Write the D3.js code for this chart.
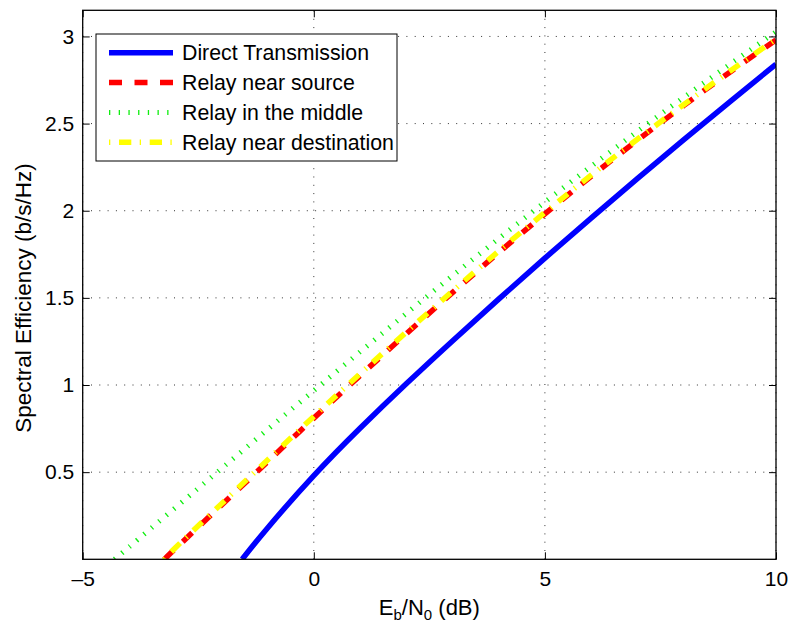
<!DOCTYPE html>
<html>
<head>
<meta charset="utf-8">
<script src="https://cdn.jsdelivr.net/npm/d3@7"></script>
<style>
  html, body { margin: 0; padding: 0; background: #fff; }
  svg { display: block; font-family: "Liberation Sans", Arial, Helvetica, sans-serif; }
</style>
</head>
<body>
<svg id="chart" width="790" height="626"></svg>
<script>
// Eb/N0 sample points (dB)
const ebn0 = [-5, -4, -3, -2, -1, 0, 1, 2, 3, 4, 5, 6, 7, 8, 9, 10];

// Spectral efficiency (b/s/Hz) for each scheme (null = below zero)
const directTx    = [null, null, null, null, 0.18, 0.48, 0.752, 1.007, 1.253, 1.493, 1.728, 1.958, 2.184, 2.406, 2.625, 2.841];
const relaySource = [null, null, 0.06, 0.31, 0.56, 0.81, 1.054, 1.294, 1.53, 1.76, 1.982, 2.197, 2.404, 2.603, 2.795, 2.98];
const relayMiddle = [null, 0.07, 0.295, 0.52, 0.745, 0.968, 1.19, 1.41, 1.627, 1.84, 2.05, 2.255, 2.455, 2.65, 2.84, 3.027];
const relayDest   = [null, null, 0.065, 0.318, 0.57, 0.82, 1.064, 1.303, 1.538, 1.768, 1.99, 2.204, 2.41, 2.608, 2.8, 2.985];

// Eb/N0 where each curve reaches zero efficiency
const startX = { direct: -1.55, source: -3.23, middle: -4.31, dest: -3.22 };

const seriesNames = ["Direct Transmission", "Relay near source", "Relay in the middle", "Relay near destination"];

const xTicks = [-5, 0, 5, 10];
const yTicks = [0.5, 1, 1.5, 2, 2.5, 3];

const xDomain = [-5, 10];
const yDomain = [0, 3.15];

const svg = d3.select("#chart");
const L = 82.7, R = 776, T = 10.3, B = 559.3;

const x = d3.scaleLinear().domain(xDomain).range([L, R]);
const y = d3.scaleLinear().domain(yDomain).range([B, T]);

// clip region for the curves
svg.append("defs").append("clipPath").attr("id", "plotClip")
  .append("rect").attr("x", L).attr("y", T).attr("width", R - L).attr("height", B - T);

// dotted grid
const grid = svg.append("g").attr("stroke", "#333").attr("stroke-width", 1).attr("stroke-dasharray", "1,7.3");
grid.selectAll("line.v").data(xTicks).join("line")
  .attr("x1", d => x(d)).attr("x2", d => x(d)).attr("y1", B).attr("y2", T);
grid.selectAll("line.h").data(yTicks).join("line")
  .attr("x1", L).attr("x2", R).attr("y1", d => y(d)).attr("y2", d => y(d));

// build point lists for each series, starting at the zero crossing
function pts(vals, x0) {
  const out = [[x0, 0]];
  ebn0.forEach((e, i) => { if (vals[i] !== null && e > x0) out.push([e, vals[i]]); });
  return out;
}

const line = d3.line().curve(d3.curveNatural).x(d => x(d[0])).y(d => y(d[1]));

const series = [
  { name: seriesNames[0], data: pts(directTx, startX.direct), color: "#0000ff", width: 5.5, dash: null },
  { name: seriesNames[1], data: pts(relaySource, startX.source), color: "#ff0000", width: 5.5, dash: "13,12.5" },
  { name: seriesNames[2], data: pts(relayMiddle, startX.middle), color: "#11ee11", width: 5, dash: "1.3,8.4" },
  { name: seriesNames[3], data: pts(relayDest, startX.dest), color: "#ffff00", width: 5.5, dash: "1.3,8.7,12.3,8.4" }
];

const plot = svg.append("g").attr("clip-path", "url(#plotClip)");
series.forEach(s => {
  plot.append("path")
    .attr("d", line(s.data))
    .attr("fill", "none")
    .attr("stroke", s.color)
    .attr("stroke-width", s.width)
    .attr("stroke-dasharray", s.dash)
    .attr("stroke-linecap", "butt");
});

// axes
const fmt = d => d < 0 ? "\u2013" + Math.abs(d) : String(d);
const fontSize = 21;

const xAxis = svg.append("g").attr("transform", `translate(0,${B})`)
  .call(d3.axisBottom(x).tickValues(xTicks).tickFormat(fmt).tickSizeInner(-7).tickSizeOuter(0).tickPadding(12));
const xAxisTop = svg.append("g").attr("transform", `translate(0,${T})`)
  .call(d3.axisTop(x).tickValues(xTicks).tickFormat("").tickSizeInner(-7).tickSizeOuter(0));
const yAxis = svg.append("g").attr("transform", `translate(${L},0)`)
  .call(d3.axisLeft(y).tickValues(yTicks).tickFormat(fmt).tickSizeInner(-7).tickSizeOuter(0).tickPadding(8.5));
const yAxisRight = svg.append("g").attr("transform", `translate(${R},0)`)
  .call(d3.axisRight(y).tickValues(yTicks).tickFormat("").tickSizeInner(-7).tickSizeOuter(0));

[xAxis, xAxisTop, yAxis, yAxisRight].forEach(g => {
  g.select(".domain").remove();
  g.selectAll(".tick line").attr("stroke", "#000").attr("stroke-width", 1);
  g.selectAll("text").attr("font-size", fontSize).attr("fill", "#000")
    .attr("font-family", "'Liberation Sans', Arial, sans-serif");
});

// axes box
svg.append("rect").attr("x", L).attr("y", T).attr("width", R - L).attr("height", B - T)
  .attr("fill", "none").attr("stroke", "#000").attr("stroke-width", 1.3);

// axis labels
const xl = svg.append("text").attr("x", (L + R) / 2).attr("y", 615)
  .attr("text-anchor", "middle").attr("font-size", 22);
xl.append("tspan").text("E");
xl.append("tspan").attr("font-size", 15).attr("dy", 5).text("b");
xl.append("tspan").attr("dy", -5).text("/N");
xl.append("tspan").attr("font-size", 15).attr("dy", 5).text("0");
xl.append("tspan").attr("dy", -5).text(" (dB)");

svg.append("text")
  .attr("transform", `translate(31,298) rotate(-90)`)
  .attr("text-anchor", "middle").attr("font-size", 22.5)
  .text("Spectral Efficiency (b/s/Hz)");

// legend
const lg = svg.append("g");
lg.append("rect").attr("x", 96).attr("y", 34).attr("width", 301).attr("height", 127)
  .attr("fill", "#fff").attr("stroke", "#000").attr("stroke-width", 1);
const rowY = [52.7, 82.5, 112.4, 142.3];
series.forEach((s, i) => {
  lg.append("line").attr("x1", 109).attr("x2", 173).attr("y1", rowY[i]).attr("y2", rowY[i])
    .attr("stroke", s.color).attr("stroke-width", s.width).attr("stroke-dasharray", s.dash);
  lg.append("text").attr("x", 182).attr("y", rowY[i]).attr("dy", "0.35em")
    .attr("font-size", 21.3).text(s.name);
});
</script>
</body>
</html>
